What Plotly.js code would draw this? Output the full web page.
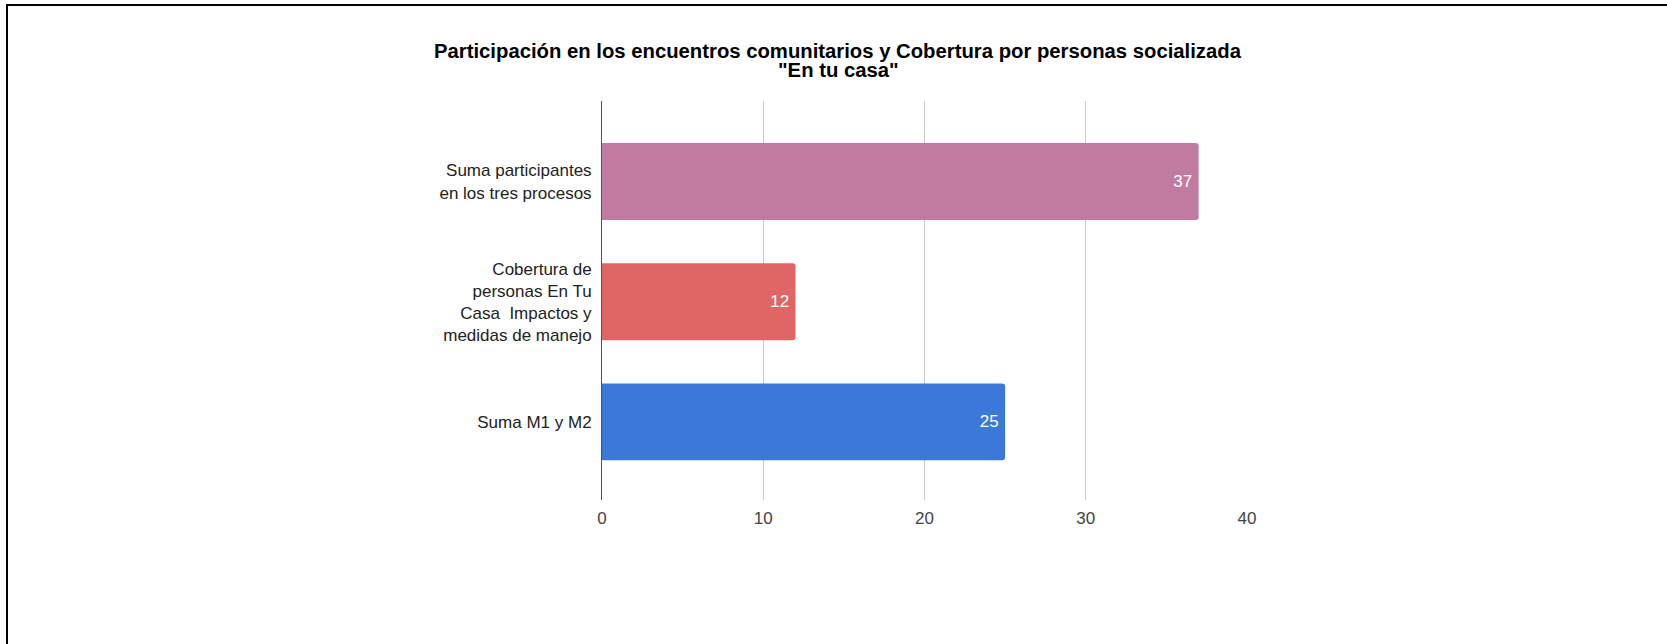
<!DOCTYPE html>
<html>
<head>
<meta charset="utf-8">
<script src="https://cdn.plot.ly/plotly-3.0.1.min.js"></script>
<style>
  html, body { margin: 0; padding: 0; background: #fff; }
  #chart { position: absolute; left: 0; top: 0; width: 1667px; height: 644px; }
  #frame { position: absolute; left: 6px; top: 4px; width: 1661px; height: 640px;
           border-top: 2px solid #000; border-left: 2px solid #000; box-sizing: border-box;
           pointer-events: none; }
</style>
</head>
<body>
<div id="chart"></div>
<div id="frame"></div>
<script>
// Categories listed bottom to top (Plotly draws the first category at the bottom)
const categories = [
  "Suma M1 y M2",
  "Cobertura de<br>personas En Tu<br>Casa  Impactos y<br>medidas de manejo",
  "Suma participantes<br>en los tres procesos"
];
const values = [25, 12, 37];
const barColors = ["#3c78d8", "#e06666", "#c27ba0"];
const xTicks = [0, 10, 20, 30, 40];
const titleLines = [
  "Participación en los encuentros comunitarios y Cobertura por personas socializada",
  "\"En tu casa\""
];

const font = "Arial, 'Liberation Sans', sans-serif";

const trace = {
  type: "bar",
  orientation: "h",
  x: values,
  y: categories,
  marker: { color: barColors, line: { width: 0 } },
  text: values.map(v => v + "\u2009"),
  textposition: "inside",
  insidetextanchor: "end",
  textfont: { color: "#ffffff", size: 17, family: font },
  width: 0.64,
  hoverinfo: "none"
};

const titleY = [51, 70];
const annotations = titleLines.map((t, i) => ({
  text: t,
  xref: "paper", yref: "paper",
  x: 0.366, xanchor: "center",
  y: 1 + (101 - titleY[i]) / 399, yanchor: "middle",
  showarrow: false,
  font: { family: font, size: 20.3, color: "#000000", weight: "bold" }
}));

const layout = {
  width: 1667,
  height: 644,
  paper_bgcolor: "#ffffff",
  plot_bgcolor: "#ffffff",
  margin: { l: 602, r: 420, t: 101, b: 144, pad: 0 },
  showlegend: false,
  barcornerradius: 3,
  annotations: annotations,
  xaxis: {
    range: [0, 40],
    tickvals: xTicks,
    ticktext: xTicks.map(String),
    showgrid: true,
    gridcolor: "#cccccc",
    gridwidth: 1,
    zeroline: false,
    showline: false,
    ticks: "",
    ticklabelstandoff: 6,
    tickfont: { family: font, size: 17, color: "#444444" },
    fixedrange: true
  },
  yaxis: {
    type: "category",
    categoryorder: "array",
    categoryarray: categories,
    range: [-0.65, 2.67],
    showgrid: false,
    zeroline: false,
    showline: true,
    linecolor: "#555555",
    linewidth: 1,
    ticks: "",
    ticklabelstandoff: 6,
    tickfont: { family: font, size: 17, color: "#222222" },
    fixedrange: true
  }
};

Plotly.newPlot("chart", [trace], layout, { staticPlot: true, displayModeBar: false });
</script>
</body>
</html>
